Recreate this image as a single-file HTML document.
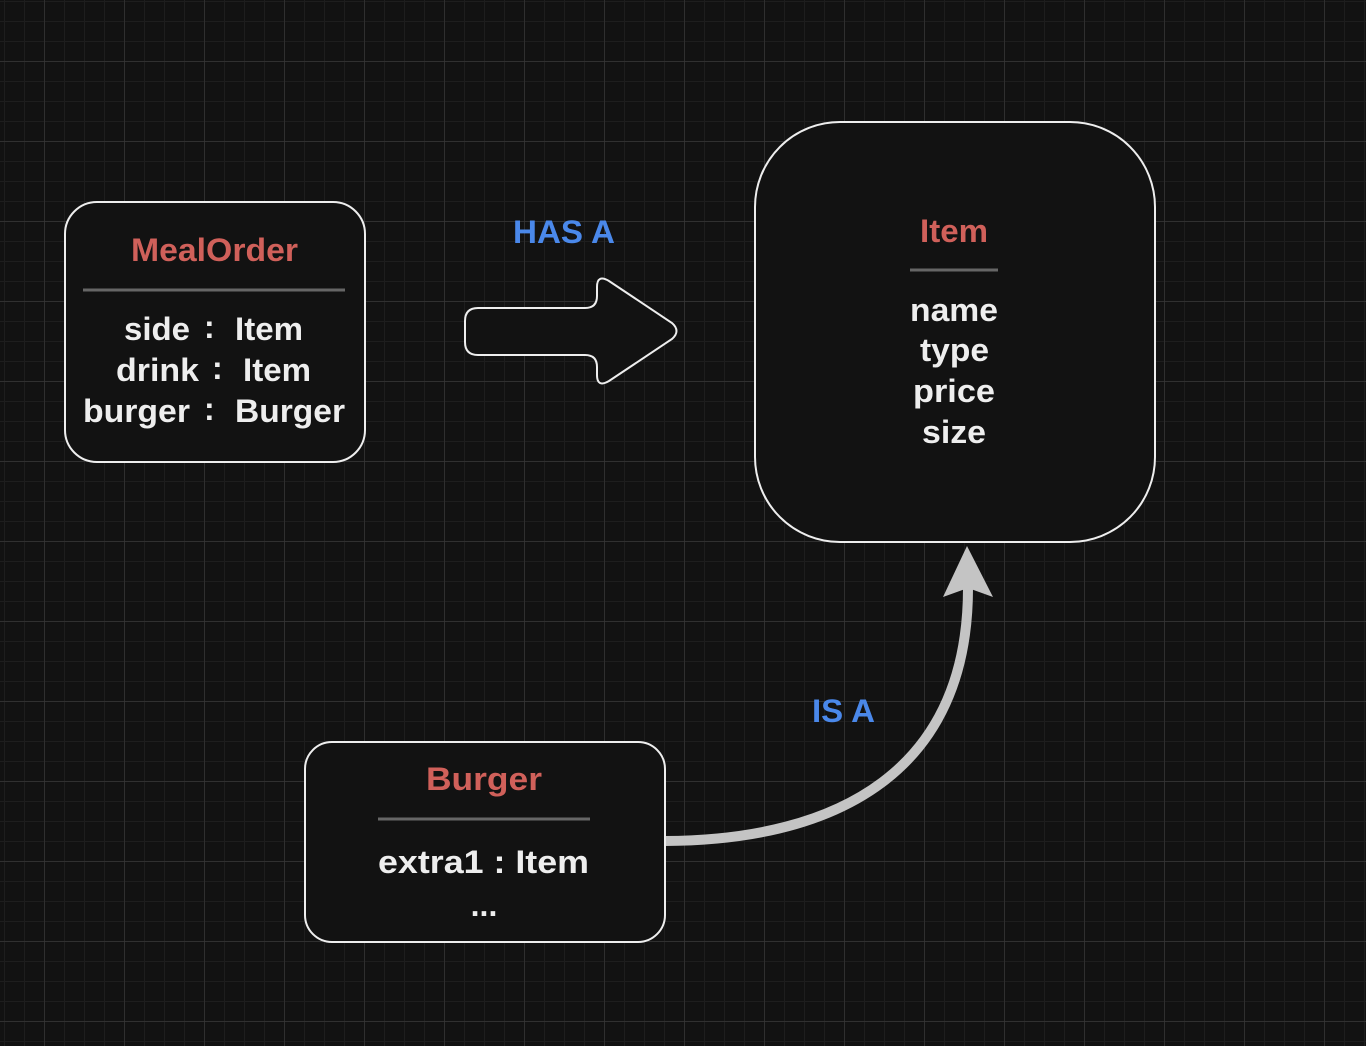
<!DOCTYPE html>
<html><head><meta charset="utf-8"><style>
html,body{margin:0;padding:0;background:#121212;}
svg{display:block}
text{font-family:"Liberation Sans",sans-serif;font-weight:bold;}
</style></head><body>
<svg width="1366" height="1046" viewBox="0 0 1366 1046" xmlns="http://www.w3.org/2000/svg">
<defs>
<pattern id="minor" x="4" y="1" width="20" height="20" patternUnits="userSpaceOnUse">
<path d="M0 0V20M0 0H20" stroke="#1e1e1e" stroke-width="2" fill="none"/>
</pattern>
<pattern id="major" x="44" y="61" width="80" height="80" patternUnits="userSpaceOnUse">
<path d="M0 0V80M0 0H80" stroke="#3a3a3a" stroke-width="1.2" fill="none"/>
</pattern>
</defs>
<rect width="1366" height="1046" fill="#121212"/>
<rect width="1366" height="1046" fill="url(#minor)"/>
<rect width="1366" height="1046" fill="url(#major)"/>

<!-- MealOrder -->
<rect x="65" y="202" width="300" height="260" rx="32" fill="#121212" stroke="#eeeeee" stroke-width="2"/>
<text x="131" y="261" font-size="32" fill="#d0605a" textLength="167" lengthAdjust="spacingAndGlyphs">MealOrder</text>
<line x1="83" y1="290" x2="345" y2="290" stroke="#666" stroke-width="3"/>
<g font-size="32" fill="#eeeeee">
<text x="124" y="340" textLength="66" lengthAdjust="spacingAndGlyphs">side</text><text x="204" y="338">:</text><text x="235" y="340" textLength="68" lengthAdjust="spacingAndGlyphs">Item</text>
<text x="116" y="381" textLength="83" lengthAdjust="spacingAndGlyphs">drink</text><text x="212" y="379">:</text><text x="243" y="381" textLength="68" lengthAdjust="spacingAndGlyphs">Item</text>
<text x="83" y="422" textLength="107" lengthAdjust="spacingAndGlyphs">burger</text><text x="204" y="420">:</text><text x="235" y="422" textLength="110" lengthAdjust="spacingAndGlyphs">Burger</text>
</g>

<!-- HAS A -->
<text x="513" y="243" font-size="32" fill="#4a88ea" textLength="102" lengthAdjust="spacingAndGlyphs">HAS A</text>
<path d="M478 308 H585 Q597 308 597 296 V287 Q597 274 609 281 L672 323 Q681 331 672 339 L609 381 Q597 388 597 375 V367 Q597 355 585 355 H478 Q465 355 465 342 V321 Q465 308 478 308 Z" fill="#121212" stroke="#eeeeee" stroke-width="2"/>

<!-- Item -->
<rect x="755" y="122" width="400" height="420" rx="85" fill="#121212" stroke="#eeeeee" stroke-width="2"/>
<text x="920" y="242" font-size="32" fill="#d0605a" textLength="68" lengthAdjust="spacingAndGlyphs">Item</text>
<line x1="910" y1="270" x2="998" y2="270" stroke="#666" stroke-width="3"/>
<g font-size="32" fill="#eeeeee">
<text x="910" y="321" textLength="88" lengthAdjust="spacingAndGlyphs">name</text>
<text x="920" y="361" textLength="69" lengthAdjust="spacingAndGlyphs">type</text>
<text x="913" y="402" textLength="82" lengthAdjust="spacingAndGlyphs">price</text>
<text x="922" y="443" textLength="64" lengthAdjust="spacingAndGlyphs">size</text>
</g>

<!-- IS A -->
<path d="M665 841 C 840 840 968 770 968 588" fill="none" stroke="#c4c4c4" stroke-width="10"/>
<path d="M967 546 L993 597 L968 588 L943 597 Z" fill="#c4c4c4"/>
<text x="812" y="722" font-size="32" fill="#4a88ea" textLength="63" lengthAdjust="spacingAndGlyphs">IS A</text>

<!-- Burger -->
<rect x="305" y="742" width="360" height="200" rx="27" fill="#121212" stroke="#eeeeee" stroke-width="2"/>
<text x="426" y="790" font-size="32" fill="#d0605a" textLength="116" lengthAdjust="spacingAndGlyphs">Burger</text>
<line x1="378" y1="819" x2="590" y2="819" stroke="#666" stroke-width="3"/>
<text x="378" y="873" font-size="32" fill="#eeeeee" textLength="211" lengthAdjust="spacingAndGlyphs">extra1 : Item</text>
<text x="484" y="916" font-size="32" fill="#eeeeee" text-anchor="middle">...</text>
</svg>
</body></html>
